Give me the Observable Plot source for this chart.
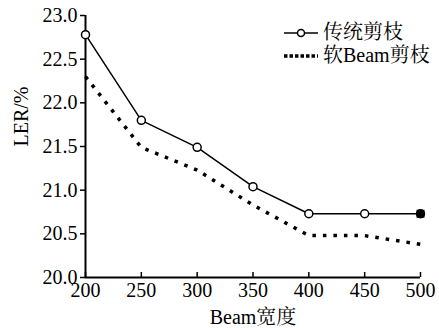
<!DOCTYPE html>
<html><head><meta charset="utf-8">
<script src="https://cdn.jsdelivr.net/npm/d3@7"></script>
<script src="https://cdn.jsdelivr.net/npm/@observablehq/plot@0.6"></script>
<style>
body{margin:0;background:#fff;}
#wrap{position:relative;width:439px;height:328px;}
#wrap svg text{font-family:"Liberation Serif","Noto Serif CJK SC",serif !important;}
#legend{position:absolute;left:284px;top:21px;font-family:"Liberation Serif","Noto Serif CJK SC",serif;font-size:20px;color:#000;line-height:23px;}
#legend div{display:flex;align-items:center;height:23px;}
#legend svg{margin-right:5px;}
</style></head>
<body><div id="wrap"><div id="legend"></div></div>
<script>
const beamWidths = [200, 250, 300, 350, 400, 450, 500];
const traditional = [22.78, 21.80, 21.49, 21.04, 20.73, 20.73, 20.73];
const softBeam = [22.30, 21.49, 21.23, 20.83, 20.48, 20.48, 20.38];
const xTicks = [200, 250, 300, 350, 400, 450, 500];
const yTicks = [20.0, 20.5, 21.0, 21.5, 22.0, 22.5, 23.0];
const seriesNames = ["传统剪枝", "软Beam剪枝"];
const xLabel = "Beam宽度";
const yLabel = "LER/%";

const t1 = beamWidths.map((x, i) => ({x, y: traditional[i]}));
const t2 = beamWidths.map((x, i) => ({x, y: softBeam[i]}));
const font = `"Liberation Serif","Noto Serif CJK SC",serif`;

const chart = Plot.plot({
  width: 439, height: 328,
  marginLeft: 85, marginRight: 19, marginTop: 15, marginBottom: 51,
  style: {fontFamily: font, fontSize: "20px", color: "#000", background: "#fff"},
  x: {domain: [200, 500], ticks: xTicks, label: null},
  y: {domain: [20, 23], ticks: yTicks, label: null},
  marks: [
    Plot.axisX({ticks: xTicks, tickSize: -5, tickPadding: 10, tickFormat: d => d, fontSize: 20, fontFamily: font, strokeWidth: 1.5}),
    Plot.axisY({ticks: yTicks, tickSize: 5, tickPadding: 3, tickFormat: d => d.toFixed(1), fontSize: 20, fontFamily: font, strokeWidth: 1.5}),
    Plot.ruleX([200], {stroke: "#000", strokeWidth: 2}),
    Plot.ruleY([20], {stroke: "#000", strokeWidth: 2}),
    Plot.line(t2, {x: "x", y: "y", stroke: "#000", strokeWidth: 3.5, strokeDasharray: "3.5,7", strokeLinecap: "butt", strokeLinejoin: "miter"}),
    Plot.line(t1, {x: "x", y: "y", stroke: "#000", strokeWidth: 1.5}),
    Plot.dot(t1, {x: "x", y: "y", r: 4, stroke: "#000", strokeWidth: 1.5, fill: "#fff"}),
    Plot.dot(t1.slice(-1), {x: "x", y: "y", r: 4.5, symbol: "square", fill: "#000"}),
    Plot.text([xLabel], {frameAnchor: "bottom", dy: 46, fontSize: 20, fontFamily: font, fill: "#000"}),
    Plot.text([yLabel], {frameAnchor: "left", dx: -64, rotate: -90, fontSize: 20, fontFamily: font, fill: "#000"})
  ]
});
document.getElementById("wrap").prepend(chart);

const legend = document.getElementById("legend");
seriesNames.forEach((name, i) => {
  const row = document.createElement("div");
  const sample = i === 0
    ? `<svg width="34" height="12"><line x1="0" y1="6" x2="34" y2="6" stroke="#000" stroke-width="1.5"/><circle cx="17" cy="6" r="3.5" fill="#fff" stroke="#000" stroke-width="1.5"/></svg>`
    : `<svg width="34" height="12"><line x1="0" y1="6" x2="34" y2="6" stroke="#000" stroke-width="3.5" stroke-dasharray="3.5,2"/></svg>`;
  row.innerHTML = sample + `<span>${name}</span>`;
  legend.appendChild(row);
});
</script>
</body></html>
